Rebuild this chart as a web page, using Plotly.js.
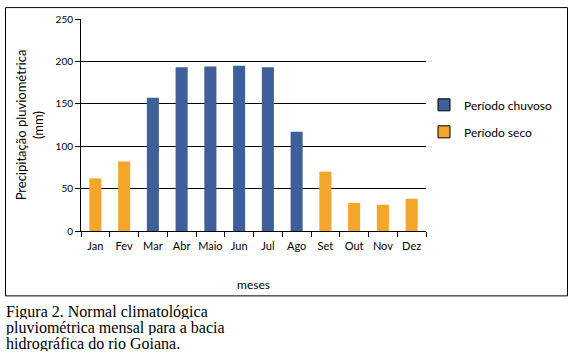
<!DOCTYPE html>
<html>
<head>
<meta charset="utf-8">
<script src="https://cdn.plot.ly/plotly-3.0.1.min.js"></script>
<style>html,body{margin:0;padding:0;background:#fff;}#chart{width:575px;height:359px;}</style>
</head>
<body>
<div id="chart"></div>
<script>
const months = ["Jan","Fev","Mar","Abr","Maio","Jun","Jul","Ago","Set","Out","Nov","Dez"];
const chuvoso = [null, null, 157, 193, 194, 195, 193, 117, null, null, null, null];
const seco = [62, 82, null, null, null, null, null, null, 70, 33, 31, 38];
const yTicks = [0, 50, 100, 150, 200, 250];
const legendNames = ["Período chuvoso", "Período seco"];
const caption = ["Figura 2. Normal climatológica", "pluviométrica mensal para a bacia", "hidrográfica do rio Goiana."];

const blue = "#3f5f9b", orange = "#f4a52c";
const W = 575, H = 359;
const L = 81, R = 426, T = 17, B = 231;
const px = x => (x - L) / (R - L);
const py = y => (B - y) / (B - T);
const sans = "Lato, 'Noto Sans', sans-serif";

const traces = [
  {type: "bar", x: months, y: chuvoso, marker: {color: blue}, width: 0.42, showlegend: false, hoverinfo: "y"},
  {type: "bar", x: months, y: seco, marker: {color: orange}, width: 0.42, showlegend: false, hoverinfo: "y"},
  {type: "bar", x: [months[0]], y: [null], name: legendNames[0], marker: {color: blue, line: {color: "#000", width: 1}}, legendgroup: "a"},
  {type: "bar", x: [months[0]], y: [null], name: legendNames[1], marker: {color: orange, line: {color: "#000", width: 1}}, legendgroup: "b"}
];

const annotations = caption.map((t, i) => ({
  text: t, xref: "paper", yref: "paper", x: px(5), y: py(313 + i * 16),
  xanchor: "left", yanchor: "middle", showarrow: false, height: 14, borderpad: 0,
  font: {family: "'Liberation Serif', serif", size: 16, color: "#000"}
}));

const layout = {
  width: W, height: H,
  margin: {l: L, r: W - R, t: T, b: H - B, pad: 0},
  paper_bgcolor: "#fff", plot_bgcolor: "#fff",
  barmode: "overlay",
  font: {family: sans, color: "#000", size: 11},
  xaxis: {
    type: "category", categoryorder: "array", categoryarray: months,
    showline: true, linecolor: "#000", linewidth: 1,
    ticks: "outside", tickson: "boundaries", ticklen: 5, tickcolor: "#000",
    showgrid: false, tickfont: {size: 11, family: sans}, tickangle: 0, ticklabelstandoff: 5,
    title: {text: "meses", font: {size: 12, family: sans}, standoff: 29},
    automargin: true
  },
  yaxis: {
    range: [0, 250], tickvals: yTicks, ticktext: yTicks.map(String),
    showline: true, linecolor: "#000", linewidth: 1,
    ticks: "outside", ticklen: 5, tickcolor: "#000",
    showgrid: true, gridcolor: "#000", gridwidth: 1, zeroline: false,
    tickfont: {size: 10, family: sans},
    title: {text: "Precipitação pluviométrica<br>(mm)", font: {size: 13, family: sans}, standoff: 9},
    automargin: true
  },
  legend: {
    x: px(424), y: py(89), xanchor: "left", yanchor: "top",
    font: {size: 12, family: sans}, traceorder: "grouped", tracegroupgap: 8,
    bgcolor: "rgba(0,0,0,0)"
  },
  shapes: [{
    type: "rect", xref: "paper", yref: "paper",
    x0: px(5.5), x1: px(567.5), y0: py(296.5), y1: py(5.5),
    line: {color: "#000", width: 1}, fillcolor: "rgba(0,0,0,0)"
  }],
  annotations: annotations
};

Plotly.newPlot("chart", traces, layout, {displayModeBar: false, staticPlot: true});
</script>
</body>
</html>
